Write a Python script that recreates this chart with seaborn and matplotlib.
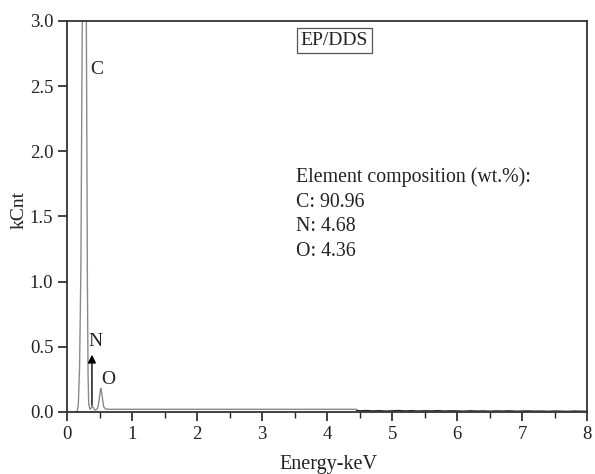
import matplotlib
matplotlib.use('Agg')
import matplotlib.pyplot as plt
import seaborn as sns
import pandas as pd

# EDS spectrum of EP/DDS (kCnt vs keV)
energy_low = [0.10, 0.15, 0.17, 0.19, 0.21, 0.22, 0.23, 0.25, 0.27, 0.29, 0.30, 0.31, 0.32, 0.33,
              0.35, 0.37, 0.385, 0.40, 0.42, 0.44, 0.47, 0.49, 0.51, 0.52, 0.54, 0.56, 0.59,
              0.65, 1.0, 2.0, 3.0, 4.0, 4.45]
counts_low = [0.0, 0.0, 0.05, 0.35, 1.1, 2.0, 2.9, 3.6, 3.8, 3.4, 2.3, 1.0, 0.3, 0.06,
              0.02, 0.03, 0.045, 0.035, 0.015, 0.015, 0.03, 0.09, 0.17, 0.18, 0.11, 0.04, 0.022,
              0.02, 0.02, 0.02, 0.02, 0.02, 0.02]

energy_high = [4.45, 4.5, 4.6, 4.7, 4.8, 4.9, 5.0, 5.1, 5.2, 5.3, 5.4, 5.5, 5.6, 5.7, 5.8, 5.9,
               6.0, 6.1, 6.2, 6.3, 6.4, 6.5, 6.6, 6.7, 6.8, 6.9, 7.0, 7.1, 7.2, 7.3, 7.4, 7.5,
               7.6, 7.7, 7.8, 7.9, 8.0]
counts_high = [0.012, 0.009, 0.011, 0.008, 0.010, 0.007, 0.009, 0.011, 0.008, 0.010, 0.007, 0.009,
               0.008, 0.010, 0.007, 0.009, 0.008, 0.006, 0.009, 0.007, 0.008, 0.006, 0.008, 0.007,
               0.009, 0.006, 0.007, 0.008, 0.006, 0.007, 0.005, 0.007, 0.006, 0.005, 0.007, 0.006, 0.005]

composition_lines = ['Element composition (wt.%):', 'C: 90.96', 'N: 4.68', 'O: 4.36']

low = pd.DataFrame({'Energy': energy_low, 'kCnt': counts_low})
high = pd.DataFrame({'Energy': energy_high, 'kCnt': counts_high})

sns.set_style('ticks')
plt.rcParams['font.family'] = ['Liberation Serif', 'DejaVu Serif']

fig = plt.figure(figsize=(5.95, 4.74), dpi=100)
ax = fig.add_axes([0.113, 0.131, 0.874, 0.825])

sns.lineplot(data=low, x='Energy', y='kCnt', ax=ax, color='#8a8a8a', linewidth=1.0)
sns.lineplot(data=high, x='Energy', y='kCnt', ax=ax, color='#222222', linewidth=0.9)

ax.set_xlim(0, 8)
ax.set_ylim(0, 3.0)
ax.set_xticks(range(0, 9))
ax.set_xticks([0.5 + i for i in range(8)], minor=True)
ax.set_yticks([0.0, 0.5, 1.0, 1.5, 2.0, 2.5, 3.0])
ax.set_yticklabels(['0.0', '0.5', '1.0', '1.5', '2.0', '2.5', '3.0'])
ax.tick_params(axis='both', which='major', direction='out', length=6.5, width=1.2,
               labelsize=13.5, color='#222222', labelcolor='#222222')
ax.tick_params(axis='x', which='minor', direction='out', length=4, width=1.0, color='#222222')
for s in ax.spines.values():
    s.set_linewidth(1.3)
    s.set_color('#333333')

ax.set_xlabel('Energy-keV', fontsize=14.5, color='#222222')
ax.xaxis.set_label_coords(0.503, -0.11)
ax.xaxis.label.set_va('top')
ax.set_ylabel('kCnt', fontsize=14, color='#222222')
ax.yaxis.set_label_coords(-0.076, 0.517)

# peak labels
ax.text(0.46, 2.63, 'C', fontsize=14, ha='center', va='center', color='#222222')
ax.text(0.44, 0.54, 'N', fontsize=14, ha='center', va='center', color='#222222')
ax.text(0.63, 0.25, 'O', fontsize=14, ha='center', va='center', color='#222222')
ax.annotate('', xy=(0.38, 0.46), xytext=(0.38, 0.03),
            arrowprops=dict(arrowstyle='-|>', color='black', lw=1.0, mutation_scale=12))

ax.text(4.11, 2.85, 'EP/DDS', fontsize=14, ha='center', va='center', color='#222222',
        bbox=dict(boxstyle='square,pad=0.2', fc='white', ec='#555555', lw=0.9))

for i, line in enumerate(composition_lines):
    ax.text(3.52, 1.80 - i * 0.19, line, fontsize=14.3, ha='left', va='center', color='#222222')

fig.savefig('out.png', dpi=100)
